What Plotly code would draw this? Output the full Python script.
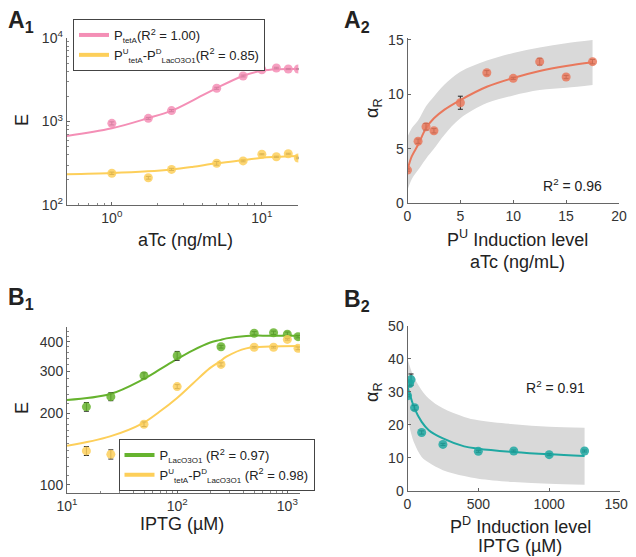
import plotly.graph_objects as go

# the page body keeps its default 8px margin, so the figure is 8px smaller
# than the window and every pixel position below is given in window pixels
OFF = 8
W, H = 636 - OFF, 557 - OFF

# ---- A1 : E vs aTc (log/log)
atc = [1, 1.75, 2.5, 5, 7.5, 10, 12.5, 15, 17.5]
e_tet = [950, 1090, 1350, 2500, 3510, 4170, 4370, 4250, 4250]
e_tet_err = [40, 30, 40, 70, 90, 90, 90, 70, 70]
e_casc_a = [240, 212, 267, 316, 337, 405, 378, 411, 366]
e_casc_a_err = [8, 8, 8, 16, 8, 6, 6, 6, 8]
# fitted curves
atc_fit = [0.5, 1, 1.73, 2.51, 3.5, 4.96, 7.47, 10, 12.5, 17.5]
e_tet_fit = [670, 829, 1092, 1350, 1806, 2497, 3508, 4055, 4230, 4250]
e_casc_a_fit = [233, 241, 253, 267, 288, 316, 343, 369, 378, 387]

# ---- A2 : alpha_R vs aTc
atc2 = [0, 1, 1.75, 2.5, 5, 7.5, 10, 12.5, 15, 17.5]
alpha_a = [3.05, 5.7, 7.03, 6.66, 9.23, 11.98, 11.47, 13.0, 11.59, 13.0]
alpha_a_err = [0.1, 0.2, 0.3, 0.2, 0.6, 0.2, 0.1, 0.3, 0.15, 0.2]
atc2_fit = [0, 0.4, 1, 1.75, 2.5, 3.5, 5, 7.5, 10, 12.5, 15, 17.5]
alpha_a_fit = [3.05, 4.3, 5.37, 6.89, 7.8, 8.6, 9.48, 10.7, 11.5, 12.14, 12.6, 12.94]
band_a_up = [6.1, 6.9, 7.6, 8.9, 9.8, 10.9, 12.07, 13.1, 13.8, 14.3, 14.7, 15.0]
band_a_lo = [1.2, 2.2, 3.05, 4.1, 5.0, 6.3, 7.8, 9.2, 9.9, 10.4, 10.6, 10.85]

# ---- B1 : E vs IPTG (log/log)
iptg = [15, 25, 50, 100, 250, 500, 750, 1000, 1250]
e_lac = [213, 235, 288, 349, 381, 434, 436, 430, 420]
e_lac_err = [9, 9, 8, 15, 5, 7, 7, 9, 5]
e_casc_b = [139, 134.5, 180, 259, 321, 379, 379, 409, 375]
e_casc_b_err = [6, 6, 4, 5, 5, 3, 3, 3, 5]
iptg_fit = [10, 24.6, 49, 69, 98.6, 139, 197, 243, 280, 424, 700, 1260]
e_lac_fit = [227.6, 241, 278, 305, 337, 368, 396, 406, 413, 423, 424, 424]
e_casc_b_fit = [146, 160, 182, 203, 231, 267, 309, 330, 346, 375, 382, 384]

# ---- B2 : alpha_R vs IPTG
iptg2 = [0, 15, 25, 50, 100, 250, 500, 750, 1000, 1250]
alpha_b = [28.8, 32.5, 33.7, 25.2, 17.7, 14.1, 12.0, 12.1, 11.0, 12.1]
alpha_b_err = [0.3, 0.8, 1.7, 0.7, 0.5, 0.3, 0.3, 0.3, 0.3, 0.3]
iptg2_fit = [0, 25, 50, 100, 150, 250, 400, 500, 750, 1000, 1250]
alpha_b_fit = [31.5, 28.0, 24.9, 20.9, 18.4, 15.9, 13.5, 12.8, 11.8, 11.1, 10.6]
band_b_up = [40.0, 36.6, 34.0, 30.5, 28.0, 25.0, 22.4, 21.4, 20.2, 19.4, 19.1]
band_b_lo = [22.4, 17.5, 14.3, 10.3, 8.6, 6.3, 4.5, 3.7, 2.7, 2.2, 1.9]

# tick labels
atc_ticks = [1, 10]
atc_ticktext = ["10<sup>0</sup>", "10<sup>1</sup>"]
e_a_ticks = [100, 1000, 10000]
e_a_ticktext = ["10<sup>2</sup>", "10<sup>3</sup>", "10<sup>4</sup>"]
iptg_ticks = [10, 100, 1000]
iptg_ticktext = ["10<sup>1</sup>", "10<sup>2</sup>", "10<sup>3</sup>"]

PINK = "#F48FB6"
YELLOW = "#FDCF5A"
GREEN = "#66B32E"
SALMON = "#E9785C"
TEAL = "#1FA8A2"
BAND = "#D9D9D9"
FONT = "Liberation Sans"

fig = go.Figure()


def pts(x, y, err, color, xa, ya):
    fig.add_trace(go.Scatter(
        x=x, y=y, mode="markers", xaxis=xa, yaxis=ya, showlegend=False,
        marker=dict(color=color, size=9, opacity=0.85),
        error_y=dict(type="data", array=err, color="#222", thickness=1, width=2.5)))


def line(x, y, color, xa, ya, width=2):
    fig.add_trace(go.Scatter(
        x=x, y=y, mode="lines", xaxis=xa, yaxis=ya, showlegend=False,
        line=dict(color=color, width=width, shape="spline")))


def band(x, lo, up, xa, ya):
    fig.add_trace(go.Scatter(x=x, y=lo, mode="lines", xaxis=xa, yaxis=ya,
                             line=dict(width=0, shape="spline"), showlegend=False,
                             hoverinfo="skip"))
    fig.add_trace(go.Scatter(x=x, y=up, mode="lines", xaxis=xa, yaxis=ya,
                             fill="tonexty", fillcolor=BAND,
                             line=dict(width=0, shape="spline"), showlegend=False,
                             hoverinfo="skip"))


def legend_entry(name, color, legend):
    fig.add_trace(go.Scatter(x=[None], y=[None], mode="lines", name=name,
                             line=dict(color=color, width=4), legend=legend))


def small(s):
    return '<span style="font-size:8px">' + s + '</span>'


# A1
line(atc_fit, e_tet_fit, PINK, "x", "y")
line(atc_fit, e_casc_a_fit, YELLOW, "x", "y")
pts(atc, e_tet, e_tet_err, PINK, "x", "y")
pts(atc, e_casc_a, e_casc_a_err, YELLOW, "x", "y")
legend_entry("P<sub>" + small("tetA") + "</sub>(R<sup>2</sup> = 1.00)", PINK, "legend")
legend_entry("P<sup>" + small("U") + "</sup><sub>" + small("tetA") + "</sub>-P<sup>" + small("D")
             + "</sup><sub>" + small("LacO3O1") + "</sub>(R<sup>2</sup> = 0.85)", YELLOW, "legend")

# A2
band(atc2_fit, band_a_lo, band_a_up, "x2", "y2")
line(atc2_fit, alpha_a_fit, SALMON, "x2", "y2")
pts(atc2, alpha_a, alpha_a_err, SALMON, "x2", "y2")

# B1
line(iptg_fit, e_lac_fit, GREEN, "x3", "y3")
line(iptg_fit, e_casc_b_fit, YELLOW, "x3", "y3")
pts(iptg, e_lac, e_lac_err, GREEN, "x3", "y3")
pts(iptg, e_casc_b, e_casc_b_err, YELLOW, "x3", "y3")
legend_entry("P<sub>" + small("LacO3O1") + "</sub> (R<sup>2</sup> = 0.97)", GREEN, "legend2")
legend_entry("P<sup>" + small("U") + "</sup><sub>" + small("tetA") + "</sub>-P<sup>" + small("D")
             + "</sup><sub>" + small("LacO3O1") + "</sub> (R<sup>2</sup> = 0.98)", YELLOW, "legend2")

# B2
band(iptg2_fit, band_b_lo, band_b_up, "x4", "y4")
line(iptg2_fit, alpha_b_fit, TEAL, "x4", "y4")
pts(iptg2, alpha_b, alpha_b_err, TEAL, "x4", "y4")


def px(v):
    return (v - OFF) / W


def py(v):
    return 1 - (v - OFF) / H


axis_common = dict(showline=True, linecolor="#666", linewidth=1, ticks="inside",
                   ticklen=3, tickcolor="#666", showgrid=False, zeroline=False,
                   automargin=False,
                   tickfont=dict(size=14, color="#333", family=FONT))


def log_minor(vals):
    return dict(ticks="inside", ticklen=2, tickcolor="#888", showgrid=False,
                tickmode="array", tickvals=vals)


legend_style = dict(xanchor="left", yanchor="top", bgcolor="white",
                    bordercolor="#444", borderwidth=1,
                    font=dict(size=13, family=FONT, color="#222"),
                    traceorder="normal", tracegroupgap=2, itemwidth=30)

fig.update_layout(
    template="none",
    width=W, height=H, margin=dict(l=0, r=0, t=0, b=0, pad=0), autosize=False,
    paper_bgcolor="white", plot_bgcolor="white",
    font=dict(family=FONT, color="#222"),
    xaxis=dict(axis_common, type="log", domain=[px(66.7), px(298.3)],
               range=[-0.301, 1.243], tickvals=atc_ticks, ticktext=atc_ticktext,
               minor=log_minor([0.6, 0.7, 0.8, 0.9, 2, 3, 4, 5, 6, 7, 8, 9]), anchor="y"),
    yaxis=dict(axis_common, type="log", domain=[py(205), py(38)],
               range=[2, 4], tickvals=e_a_ticks, ticktext=e_a_ticktext,
               minor=log_minor([200, 300, 400, 500, 600, 700, 800, 900,
                                2000, 3000, 4000, 5000, 6000, 7000, 8000, 9000]),
               anchor="x"),
    xaxis2=dict(axis_common, domain=[px(407.5), px(619)], range=[0, 20],
                tickvals=[0, 5, 10, 15, 20], anchor="y2"),
    yaxis2=dict(axis_common, domain=[py(203.3), py(37.7)], range=[0, 15.2],
                tickvals=[0, 5, 10, 15], anchor="x2"),
    xaxis3=dict(axis_common, type="log", domain=[px(67), px(300)],
                range=[1, 3.115], tickvals=iptg_ticks, ticktext=iptg_ticktext,
                minor=log_minor([20, 30, 40, 50, 60, 70, 80, 90,
                                 200, 300, 400, 500, 600, 700, 800, 900]),
                anchor="y3"),
    yaxis3=dict(axis_common, type="log", domain=[py(493.3), py(326.7)],
                range=[1.965, 2.665], tickvals=[100, 200, 300, 400],
                minor=log_minor([110, 120, 130, 140, 150, 160, 170, 180, 190,
                                 220, 240, 260, 280, 320, 340, 360, 380, 420, 440]),
                anchor="x3"),
    xaxis4=dict(axis_common, domain=[px(407.5), px(620)], range=[0, 1500],
                tickvals=[0, 500, 1000, 1500], anchor="y4"),
    yaxis4=dict(axis_common, domain=[py(491), py(325.7)], range=[0, 50],
                tickvals=[0, 10, 20, 30, 40, 50], anchor="x4"),
    legend=dict(legend_style, x=px(73), y=py(19)),
    legend2=dict(legend_style, x=px(118.5), y=py(439)),
)


def note(text, x, y, size=18, angle=0, bold=False):
    if bold:
        text = "<b>" + text + "</b>"
    fig.add_annotation(text=text, x=px(x), y=py(y), xref="paper", yref="paper",
                       xanchor="center", yanchor="middle",
                       showarrow=False, textangle=angle,
                       font=dict(size=size, family=FONT, color="#222"))


# panel labels
note("A<sub>1</sub>", 21, 22, size=23, bold=True)
note("A<sub>2</sub>", 357, 22, size=23, bold=True)
note("B<sub>1</sub>", 21, 298, size=23, bold=True)
note("B<sub>2</sub>", 357, 300, size=23, bold=True)

# axis titles
note("aTc (ng/mL)", 185, 240)
note("E", 22, 120, angle=-90)
note("α<sub>R</sub>", 373, 108, angle=-90)
note("P<sup>U</sup> Induction level", 517, 238)
note("aTc (ng/mL)", 517, 262)
note("IPTG (µM)", 182, 524)
note("E", 22, 408, angle=-90)
note("α<sub>R</sub>", 373, 392, angle=-90)
note("P<sup>D</sup> Induction level", 520, 525)
note("IPTG (µM)", 520, 546)

# fit quality
note("R<sup>2</sup> = 0.96", 572, 185, size=14)
note("R<sup>2</sup> = 0.91", 555, 387, size=14)

fig.write_html("out.html")
